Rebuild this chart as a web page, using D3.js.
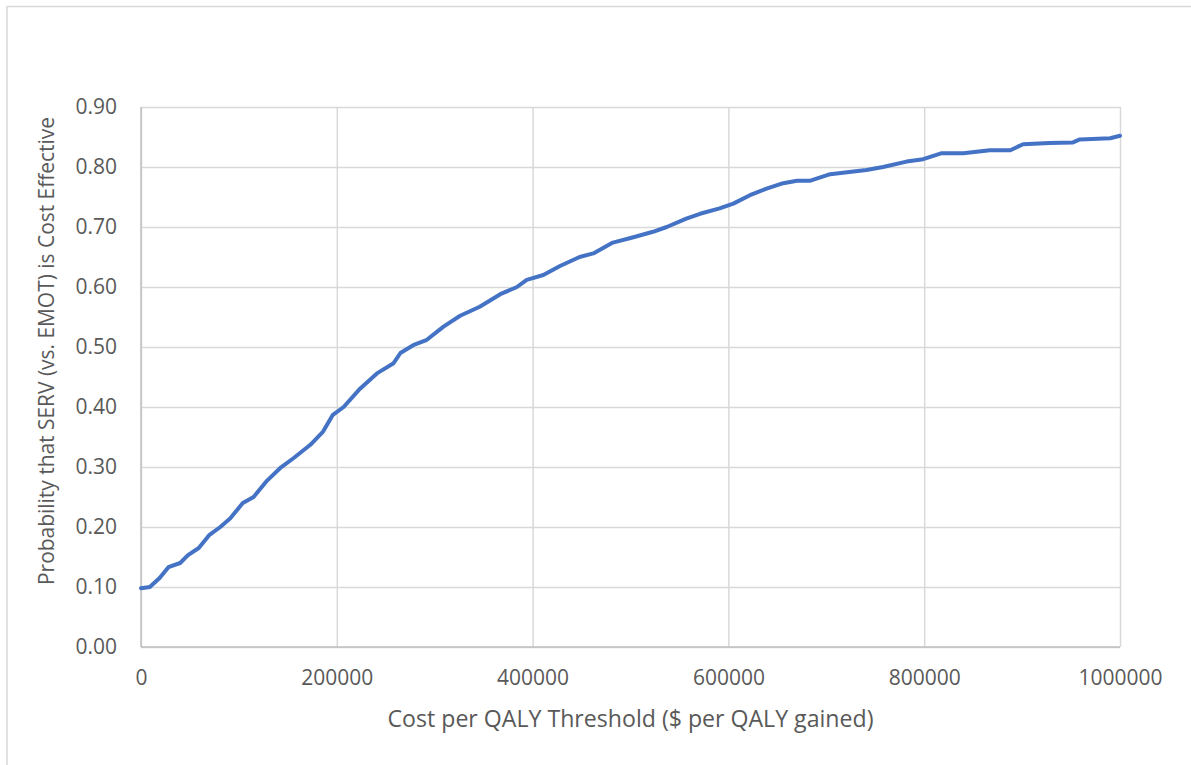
<!DOCTYPE html>
<html>
<head>
<meta charset="utf-8">
<script src="https://d3js.org/d3.v7.min.js"></script>
<style>
  html, body { margin: 0; padding: 0; background: #fff; }
  svg { display: block; }
</style>
</head>
<body>
<svg id="chart" width="1191" height="765"></svg>
<script>
// ---- data ----
const thresholds = [0, 9000, 19000, 28000, 40000, 48000, 59000, 70000, 81000, 91000,
  104000, 115000, 128000, 142000, 156000, 173000, 186000, 196000, 207000, 224000,
  241000, 258000, 265000, 278000, 292000, 309000, 326000, 346000, 367000, 384000,
  394000, 411000, 428000, 448000, 462000, 482000, 503000, 523000, 537000, 557000,
  571000, 591000, 605000, 622000, 639000, 656000, 670000, 683000, 704000, 741000,
  758000, 782000, 799000, 818000, 840000, 867000, 888000, 901000, 928000, 952000,
  959000, 990000, 1000000];
const probability = [0.098, 0.100, 0.115, 0.133, 0.140, 0.153, 0.165, 0.187, 0.200, 0.214,
  0.240, 0.250, 0.276, 0.298, 0.315, 0.337, 0.359, 0.387, 0.400, 0.431,
  0.456, 0.473, 0.490, 0.503, 0.512, 0.534, 0.552, 0.567, 0.588, 0.600,
  0.612, 0.620, 0.635, 0.650, 0.656, 0.674, 0.683, 0.692, 0.700, 0.714,
  0.722, 0.731, 0.739, 0.753, 0.764, 0.773, 0.777, 0.777, 0.788, 0.795,
  0.800, 0.809, 0.813, 0.823, 0.823, 0.828, 0.828, 0.838, 0.840, 0.841,
  0.846, 0.848, 0.852];
const xTicks = [0, 200000, 400000, 600000, 800000, 1000000];
const yTicks = [0, 0.1, 0.2, 0.3, 0.4, 0.5, 0.6, 0.7, 0.8, 0.9];
const xTitle = "Cost per QALY Threshold ($ per QALY gained)";
const yTitle = "Probability that SERV (vs. EMOT) is Cost Effective";

// ---- layout ----
const svg = d3.select("#chart");
const W = 1191, H = 765;
const plot = { left: 141, right: 1120, top: 107, bottom: 647 };
const font = "'Open Sans', 'Liberation Sans', sans-serif";
const textColor = "#595959";

// chart frame (only top and left edges are visible in the reference)
svg.append("rect")
  .attr("x", 7).attr("y", 6.5)
  .attr("width", W + 20).attr("height", H + 20)
  .attr("fill", "#fff").attr("stroke", "#d9d9d9").attr("stroke-width", 1.5);

const x = d3.scaleLinear().domain([0, 1000000]).range([plot.left, plot.right]);
const y = d3.scaleLinear().domain([0, 0.9]).range([plot.bottom, plot.top]);

// gridlines
const gx = svg.append("g").attr("transform", `translate(0,${plot.bottom})`)
  .call(d3.axisBottom(x).tickValues(xTicks).tickSize(-(plot.bottom - plot.top)).tickFormat(""));
gx.select(".domain").remove();
gx.selectAll("line").attr("stroke", "#d9d9d9").attr("stroke-width", 1.5);

const gy = svg.append("g").attr("transform", `translate(${plot.left},0)`)
  .call(d3.axisLeft(y).tickValues(yTicks).tickSize(-(plot.right - plot.left)).tickFormat(""));
gy.select(".domain").remove();
gy.selectAll("line").attr("stroke", "#d9d9d9").attr("stroke-width", 1.5);

// axis lines
svg.append("line").attr("x1", plot.left).attr("x2", plot.right)
  .attr("y1", plot.bottom).attr("y2", plot.bottom)
  .attr("stroke", "#bfbfbf").attr("stroke-width", 1.5);
svg.append("line").attr("x1", plot.left).attr("x2", plot.left)
  .attr("y1", plot.top).attr("y2", plot.bottom)
  .attr("stroke", "#bfbfbf").attr("stroke-width", 1.5);

// tick labels
const xl = svg.append("g").attr("transform", `translate(0,${plot.bottom})`)
  .call(d3.axisBottom(x).tickValues(xTicks).tickSize(0).tickPadding(23).tickFormat(d3.format("d")));
xl.select(".domain").remove();
xl.selectAll("text").attr("fill", textColor).style("font-family", font).style("font-size", "21px");

const yl = svg.append("g").attr("transform", `translate(${plot.left},0)`)
  .call(d3.axisLeft(y).tickValues(yTicks).tickSize(0).tickPadding(24).tickFormat(d3.format(".2f")));
yl.select(".domain").remove();
yl.selectAll("text").attr("fill", textColor).style("font-family", font).style("font-size", "21px");

// line
const pts = thresholds.map((t, i) => [t, probability[i]]);
svg.append("path")
  .datum(pts)
  .attr("fill", "none")
  .attr("stroke", "#4472C4")
  .attr("stroke-width", 4)
  .attr("stroke-linejoin", "round")
  .attr("stroke-linecap", "round")
  .attr("d", d3.line().x(d => x(d[0])).y(d => y(d[1])));

// axis titles
svg.append("text")
  .attr("x", (plot.left + plot.right) / 2).attr("y", 727)
  .attr("text-anchor", "middle")
  .attr("fill", textColor)
  .attr("textLength", 486).attr("lengthAdjust", "spacingAndGlyphs")
  .style("font-family", font).style("font-size", "23px")
  .text(xTitle);

svg.append("text")
  .attr("transform", `translate(54,351) rotate(-90)`)
  .attr("text-anchor", "middle")
  .attr("fill", textColor)
  .attr("textLength", 468).attr("lengthAdjust", "spacingAndGlyphs")
  .style("font-family", font).style("font-size", "22px")
  .text(yTitle);
</script>
</body>
</html>
